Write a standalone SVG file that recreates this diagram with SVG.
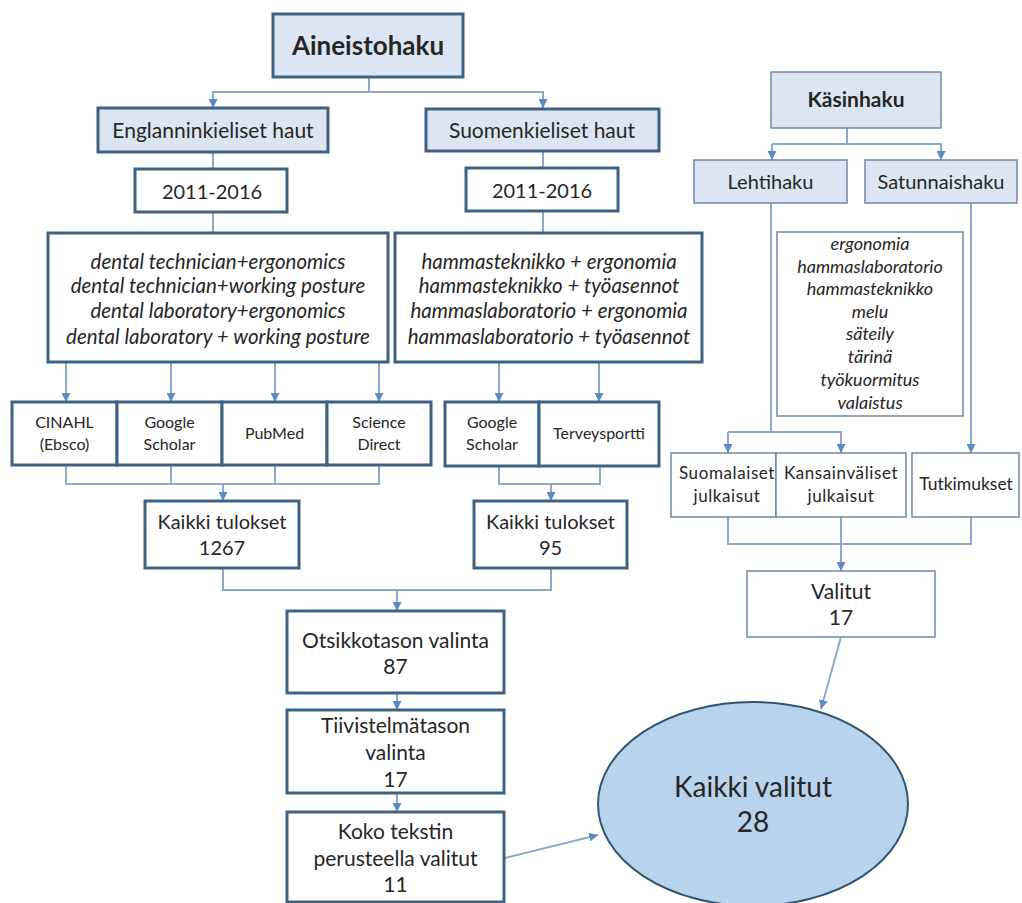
<svg xmlns="http://www.w3.org/2000/svg" width="1022" height="903" viewBox="0 0 1022 903">
<defs>
<marker id="ah" viewBox="0 0 10 10" refX="10" refY="5" markerWidth="9" markerHeight="9" markerUnits="userSpaceOnUse" orient="auto">
<path d="M0,0 L10,5 L0,10 z" fill="#5b8bc4"/>
</marker>
<style>
.thk{fill:#ffffff;stroke:#3f6282;stroke-width:3}
.thkb{fill:#dce6f2;stroke:#3f6282;stroke-width:3}
.thn{fill:#ffffff;stroke:#6f88a6;stroke-width:1.5}
.thnb{fill:#dce6f2;stroke:#6f88a6;stroke-width:1.5}
text{font-family:Lato,"Liberation Sans",sans-serif;fill:#262626;text-anchor:middle}
.b{font-weight:bold}
.i{font-style:italic}
.c{fill:none;stroke:#8eaacb;stroke-width:2}
.a{marker-end:url(#ah)}
</style>
</defs>
<rect width="1022" height="903" fill="#ffffff"/>
<g id="connectors">
<path class="c a" d="M369,77 V92 H213 V108"/>
<path class="c a" d="M369,92 H543 V108"/>
<path class="c" d="M213,152 V169 M213,212 V233 M543,151 V168 M543,211 V233"/>
<path class="c a" d="M66,362 V402"/>
<path class="c a" d="M171,362 V402"/>
<path class="c a" d="M275,362 V402"/>
<path class="c a" d="M379,362 V402"/>
<path class="c a" d="M499,362 V402"/>
<path class="c a" d="M599,362 V402"/>
<path class="c" d="M66,465 V484 H379 V465 M171,465 V484 M275,465 V484"/>
<path class="c a" d="M223,484 V501"/>
<path class="c" d="M499,466 V484 H600 V466"/>
<path class="c a" d="M551,484 V501"/>
<path class="c" d="M223,568 V590 H551 V568"/>
<path class="c a" d="M397,590 V611"/>
<path class="c a" d="M397,693 V710"/>
<path class="c a" d="M397,793 V812"/>
<path class="c a" d="M505,858 L598,835"/>
<path class="c" d="M847,128 V144 H772"/>
<path class="c a" d="M772,144 V160"/>
<path class="c a" d="M847,144 H941 V160"/>
<path class="c" d="M771,203 V432 H728"/>
<path class="c a" d="M728,432 V453"/>
<path class="c a" d="M771,432 H841 V453"/>
<path class="c a" d="M971,203 V453"/>
<path class="c" d="M728,517 V544 H971 V517"/>
<path class="c a" d="M841,517 V571"/>
<path class="c a" d="M841,637 L821,709"/>
</g>
<g id="aineistohaku">
<rect class="thkb" x="273" y="14" width="190" height="63"/>
<text class="b" x="368" y="55" font-size="26">Aineistohaku</text>
</g>
<g id="englanninkieliset">
<rect class="thkb" x="98" y="108" width="230" height="44"/>
<text x="213" y="138" font-size="21">Englanninkieliset haut</text>
</g>
<g id="suomenkieliset">
<rect class="thkb" x="426" y="109" width="233" height="42"/>
<text x="542" y="138" font-size="21">Suomenkieliset haut</text>
</g>
<g id="vuodet-en">
<rect class="thk" x="135" y="169" width="152" height="43"/>
<text x="212" y="199" font-size="20">2011-2016</text>
</g>
<g id="vuodet-fi">
<rect class="thk" x="466" y="168" width="152" height="43"/>
<text x="542" y="198" font-size="20">2011-2016</text>
</g>
<g id="hakusanat-en">
<rect class="thk" x="48" y="233" width="340" height="129"/>
<text class="i" font-size="20.5"><tspan x="218" y="269">dental technician+ergonomics</tspan><tspan x="218" y="293">dental technician+working posture</tspan><tspan x="218" y="318">dental laboratory+ergonomics</tspan><tspan x="218" y="344">dental laboratory + working posture</tspan></text>
</g>
<g id="hakusanat-fi">
<rect class="thk" x="395" y="233" width="307" height="129"/>
<text class="i" font-size="20.5"><tspan x="549" y="269">hammasteknikko + ergonomia</tspan><tspan x="549" y="293">hammasteknikko + työasennot</tspan><tspan x="549" y="318">hammaslaboratorio + ergonomia</tspan><tspan x="549" y="344">hammaslaboratorio + työasennot</tspan></text>
</g>
<g id="cinahl">
<rect class="thk" x="12" y="402" width="105" height="63"/>
<text font-size="16"><tspan x="64.5" y="428">CINAHL</tspan><tspan x="64.5" y="450">(Ebsco)</tspan></text>
</g>
<g id="google-en">
<rect class="thk" x="117" y="402" width="105" height="63"/>
<text font-size="16"><tspan x="169.5" y="428">Google</tspan><tspan x="169.5" y="450">Scholar</tspan></text>
</g>
<g id="pubmed">
<rect class="thk" x="222" y="402" width="105" height="63"/>
<text x="274.5" y="439" font-size="16">PubMed</text>
</g>
<g id="sciencedirect">
<rect class="thk" x="327" y="402" width="104" height="63"/>
<text font-size="16"><tspan x="379" y="428">Science</tspan><tspan x="379" y="450">Direct</tspan></text>
</g>
<g id="google-fi">
<rect class="thk" x="445" y="402" width="94" height="64"/>
<text font-size="16"><tspan x="492" y="428">Google</tspan><tspan x="492" y="450">Scholar</tspan></text>
</g>
<g id="terveysportti">
<rect class="thk" x="539" y="402" width="120" height="64"/>
<text x="599" y="439" font-size="16">Terveysportti</text>
</g>
<g id="kaikki-en">
<rect class="thk" x="145" y="501" width="154" height="67"/>
<text font-size="20"><tspan x="222" y="529">Kaikki tulokset</tspan><tspan x="222" y="555">1267</tspan></text>
</g>
<g id="kaikki-fi">
<rect class="thk" x="474" y="501" width="153" height="67"/>
<text font-size="20"><tspan x="550.5" y="529">Kaikki tulokset</tspan><tspan x="550.5" y="555">95</tspan></text>
</g>
<g id="otsikkotaso">
<rect class="thk" x="287" y="611" width="217" height="82"/>
<text font-size="21"><tspan x="395.5" y="648">Otsikkotason valinta</tspan><tspan x="395.5" y="674">87</tspan></text>
</g>
<g id="tiivistelmataso">
<rect class="thk" x="287" y="710" width="217" height="83"/>
<text font-size="21"><tspan x="395.5" y="733">Tiivistelmätason</tspan><tspan x="395.5" y="760">valinta</tspan><tspan x="395.5" y="787">17</tspan></text>
</g>
<g id="kokoteksti">
<rect class="thk" x="287" y="812" width="217" height="90"/>
<text font-size="21"><tspan x="395.5" y="839">Koko  tekstin</tspan><tspan x="395.5" y="866">perusteella valitut</tspan><tspan x="395.5" y="892">11</tspan></text>
</g>
<g id="kaikki-valitut">
<ellipse cx="753" cy="804" rx="155" ry="102" fill="#bad3ec" stroke="#34536f" stroke-width="2"/>
<text font-size="28"><tspan x="753" y="797">Kaikki valitut</tspan><tspan x="753" y="832">28</tspan></text>
</g>
<g id="kasinhaku">
<rect class="thnb" x="771" y="72" width="170" height="56"/>
<text class="b" x="856" y="107" font-size="21">Käsinhaku</text>
</g>
<g id="lehtihaku">
<rect class="thnb" x="694" y="160" width="153" height="43"/>
<text x="770.5" y="189" font-size="20">Lehtihaku</text>
</g>
<g id="satunnaishaku">
<rect class="thnb" x="865" y="160" width="152" height="43"/>
<text x="941" y="189" font-size="20">Satunnaishaku</text>
</g>
<g id="hakusanat-kasin">
<rect class="thn" x="777" y="232" width="186" height="184"/>
<text class="i" font-size="18"><tspan x="870" y="250">ergonomia</tspan><tspan x="870" y="273">hammaslaboratorio</tspan><tspan x="870" y="295">hammasteknikko</tspan><tspan x="870" y="318">melu</tspan><tspan x="870" y="340">säteily</tspan><tspan x="870" y="363">tärinä</tspan><tspan x="870" y="386">työkuormitus</tspan><tspan x="870" y="409">valaistus</tspan></text>
</g>
<g id="suomalaiset">
<rect class="thn" x="671" y="453" width="105" height="64"/>
<text font-size="17" letter-spacing="0.6"><tspan x="727" y="479">Suomalaiset</tspan><tspan x="727" y="502">julkaisut</tspan></text>
</g>
<g id="kansainvaliset">
<rect class="thn" x="776" y="453" width="130" height="64"/>
<text font-size="17" letter-spacing="0.6"><tspan x="841" y="479">Kansainväliset</tspan><tspan x="841" y="502">julkaisut</tspan></text>
</g>
<g id="tutkimukset">
<rect class="thn" x="912" y="453" width="107" height="64"/>
<text x="966" y="490" font-size="17.5">Tutkimukset</text>
</g>
<g id="valitut">
<rect class="thn" x="747" y="571" width="188" height="66"/>
<text font-size="21"><tspan x="841" y="599">Valitut</tspan><tspan x="841" y="625">17</tspan></text>
</g>
</svg>
